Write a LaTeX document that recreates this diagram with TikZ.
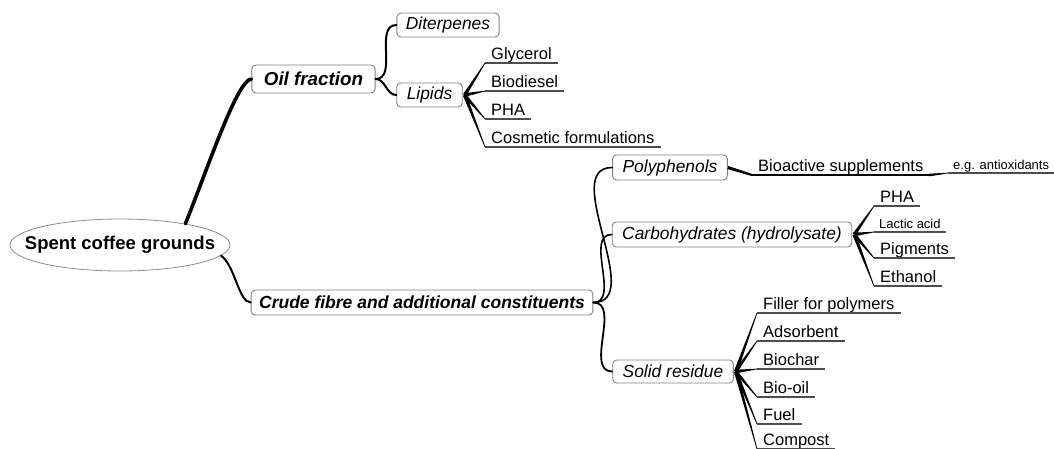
\documentclass[tikz,border=0pt]{standalone}
\usepackage{fontspec}
\setmainfont{Liberation Sans}
\usetikzlibrary{shapes.geometric,calc}
\newcommand\taper[4]{\fill[black] ($(#1)!#3!90:(#2)$) -- ($(#2)!#4!-90:(#1)$) -- ($(#2)!#4!90:(#1)$) -- ($(#1)!#3!-90:(#2)$) -- cycle;}
\tikzset{
  topic/.style={draw=black!50, line width=0.9pt, rounded corners=4pt, fill=white,
    inner xsep=10pt, inner ysep=0pt, minimum height=25pt,
    font=\fontsize{17.4}{20}\selectfont\itshape},
  maintopic/.style={topic, font=\fontsize{18}{20}\selectfont\bfseries\itshape},
  leaf/.style={anchor=south west, inner xsep=6pt, inner ysep=3pt, text depth=0pt,
    font=\fontsize{16.5}{18}\selectfont},
  smallleaf/.style={leaf, inner xsep=5pt, font=\fontsize{13}{15}\selectfont},
  ul/.style={draw=black!70, line width=1.1pt},
  branch/.style={draw=black, line width=#1, line cap=round},
}
\begin{document}
\begin{tikzpicture}[x=1pt,y=-1pt]
\useasboundingbox (0,0) rectangle (1054,448);

% root
\node[ellipse, draw=black!45, line width=0.8pt, minimum width=220pt, minimum height=52pt, inner sep=0pt] (scg) at (120,245) {};
\node[inner sep=0pt, font=\fontsize{18.5}{20}\selectfont\bfseries] (scgtext) at (scg.center) {Spent coffee grounds};

% main topics
\node[maintopic, minimum height=28pt, inner xsep=12pt, font=\fontsize{18.8}{20}\selectfont\bfseries\itshape] (oil) at (313.5,79) {Oil fraction};
\node[maintopic, inner xsep=8pt, font=\fontsize{17.5}{20}\selectfont\bfseries\itshape] (crude) at (422,302.5) {Crude fibre and additional constituents};

% sub topics
\node[topic, inner xsep=9pt, minimum height=24pt] (dit) at (448,25) {Diterpenes};
\node[topic, minimum height=24pt] (lip) at (429.5,95) {Lipids};
\node[topic] (poly) at (670,167.5) {Polyphenols};
\node[topic] (carb) at (732,234.5) {Carbohydrates (hydrolysate)};
\node[topic, minimum height=23pt] (solid) at (673,371.5) {Solid residue};

% leaves
\node[leaf] (gly) at (485,63) {Glycerol};
\node[leaf] (bdsl) at (485,91) {Biodiesel};
\node[leaf] (phaA) at (485,119) {PHA};
\node[leaf] (cos) at (485,147) {Cosmetic formulations};

\node[leaf] (bioact) at (752,175) {Bioactive supplements};
\node[smallleaf] (eg) at (948,173) {e.g. antioxidants};

\node[leaf] (phaB) at (874,206) {PHA};
\node[smallleaf] (lac) at (874,232) {Lactic acid};
\node[leaf] (pig) at (874,258) {Pigments};
\node[leaf] (eth) at (874,286) {Ethanol};

\node[leaf] (fil) at (757,313) {Filler for polymers};
\node[leaf] (ads) at (757,341) {Adsorbent};
\node[leaf] (bch) at (757,369) {Biochar};
\node[leaf] (boil) at (757,397) {Bio-oil};
\node[leaf] (fuel) at (757,424) {Fuel};
\node[leaf] (comp) at (757,449) {Compost};

% underlines
\foreach \n in {gly,bdsl,phaA,cos,eg,phaB,lac,pig,eth,fil,ads,bch,boil,fuel,comp}
  \draw[ul] (\n.south west) -- (\n.south east);
\draw[draw=black, line width=2.2pt] (bioact.south west) -- (bioact.south east);

% fan points
\coordinate (lipfan) at ($(lip.east)+(2,0)$);
\coordinate (carbfan) at ($(carb.east)+(2,0)$);
\coordinate (solidfan) at ($(solid.east)+(2,0)$);

% main connectors
\draw[branch=3.6pt] (scg.18) .. controls +(25,-63) and +(-14,1) .. (oil.west);
\draw[branch=2pt] (scg.-6) .. controls +(14,10) and +(-12,0) .. (crude.west);

\draw[branch=2pt] (oil.east) to[out=0,in=180] (dit.west);
\draw[branch=2pt] (oil.east) to[out=0,in=180] (lip.west);

\draw[branch=1.6pt] (crude.east) to[out=0,in=180] (poly.west);
\draw[branch=1.6pt] (crude.east) to[out=0,in=180] (carb.west);
\draw[branch=1.8pt] (crude.east) to[out=0,in=180] (solid.west);

% tapered leaf connectors
\foreach \n in {gly,bdsl,phaA,cos} { \taper{lipfan}{\n.south west}{1.8pt}{0.35pt} }
\foreach \n in {phaB,lac,pig,eth} { \taper{carbfan}{\n.south west}{1.8pt}{0.35pt} }
\foreach \n in {fil,ads,bch,boil,fuel,comp} { \taper{solidfan}{\n.south west}{1.8pt}{0.35pt} }
\taper{poly.east}{bioact.south west}{1.6pt}{1.1pt}
\taper{bioact.south east}{eg.south west}{1.3pt}{0.35pt}

\end{tikzpicture}
\end{document}
